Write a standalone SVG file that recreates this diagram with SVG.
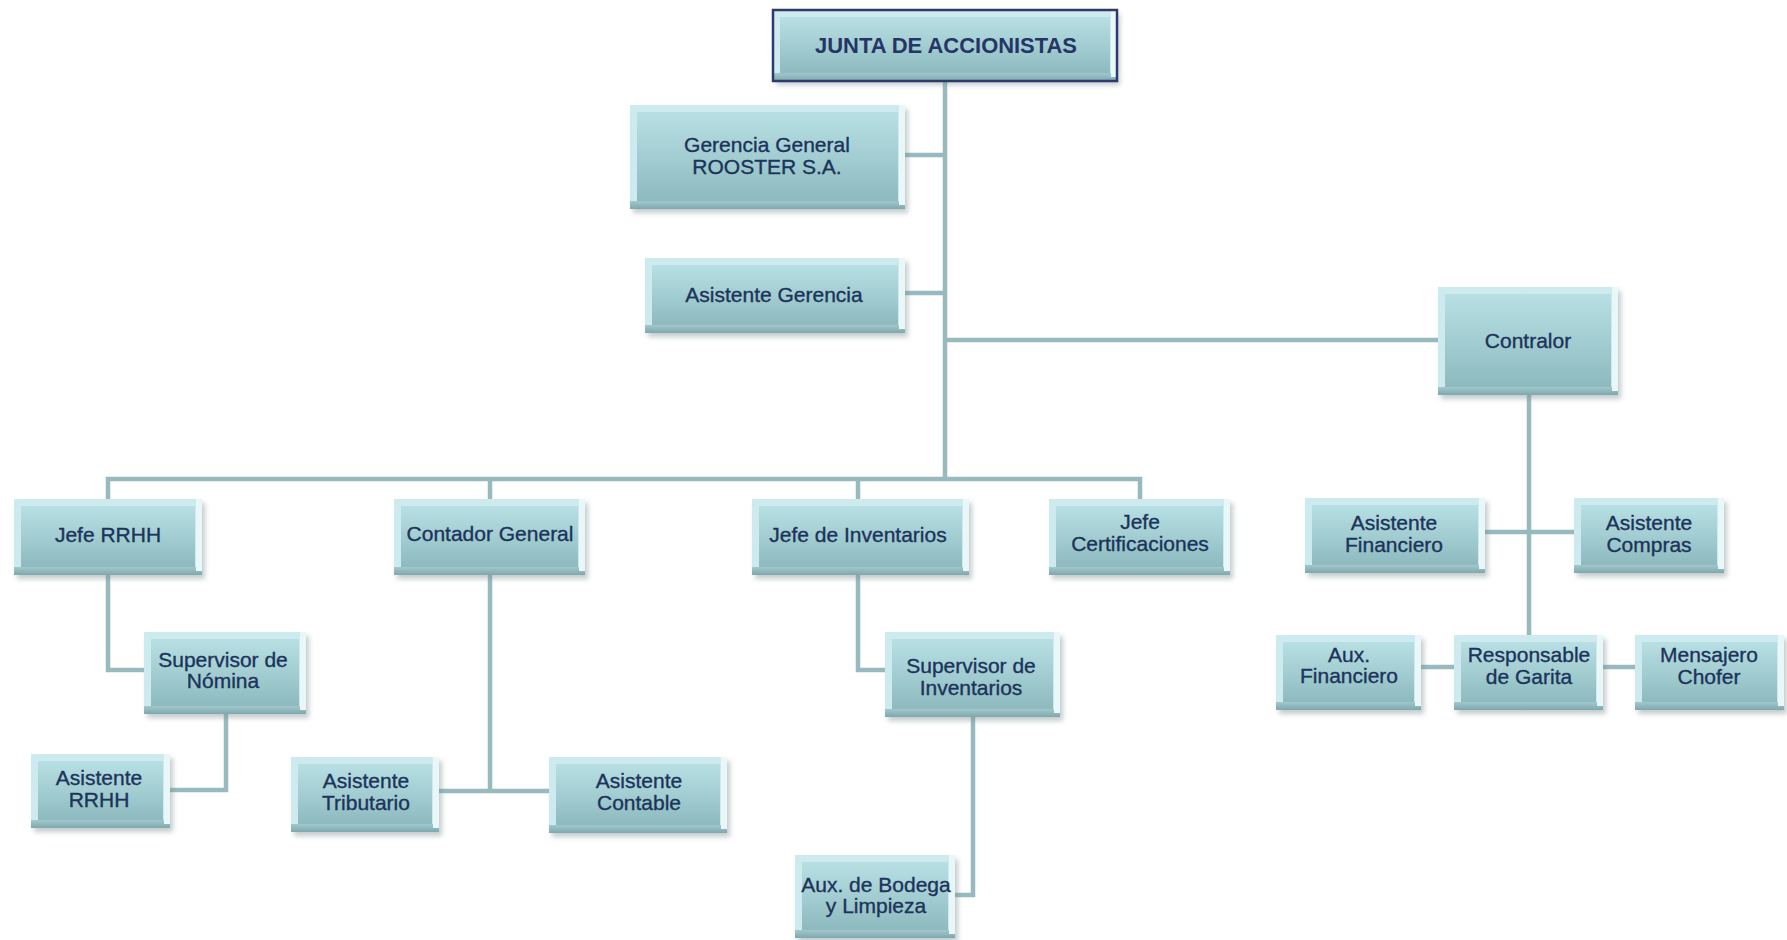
<svg xmlns="http://www.w3.org/2000/svg" width="1787" height="940" viewBox="0 0 1787 940">
<style>
.sh{fill:#7f8f92;opacity:.45;filter:url(#fSh)}
.rim{fill:#cdebee}
.face{fill:url(#gFace)}
.bot{fill:url(#gBot)}
.rt{fill:#eaf7f8}
.t{font-family:"Liberation Sans",Arial,sans-serif;font-size:21px;fill:#1b345a;stroke:#1b345a;stroke-width:.35;text-anchor:middle}
.tb{font-weight:bold;font-size:22px;fill:#243566;stroke:none}
.c{fill:none;stroke:#98babe;stroke-width:4.5}
</style>
<defs>
<linearGradient id="gFace" x1="0" y1="0" x2="0" y2="1"><stop offset="0" stop-color="#b8e0e4"/><stop offset="1" stop-color="#8dbabf"/></linearGradient>
<linearGradient id="gBot" x1="0" y1="0" x2="0" y2="1"><stop offset="0" stop-color="#a2c8cc"/><stop offset="1" stop-color="#7ea8ad"/></linearGradient>
<filter id="fSh" x="-10%" y="-10%" width="130%" height="140%"><feGaussianBlur stdDeviation="2.5"/></filter>
</defs>
<rect width="1787" height="940" fill="#ffffff"/>
<g id="connectors">
<path class="c" d="M945 81V479"/>
<path class="c" d="M905 155H945"/>
<path class="c" d="M905 293H945"/>
<path class="c" d="M945 340H1438"/>
<path class="c" d="M108 499V479H1140V499"/>
<path class="c" d="M490 479V499"/>
<path class="c" d="M858 479V499"/>
<path class="c" d="M108 575V670H144"/>
<path class="c" d="M226 714V790H170"/>
<path class="c" d="M490 575V791"/>
<path class="c" d="M439 791H549"/>
<path class="c" d="M858 575V670H885"/>
<path class="c" d="M973 717V895H955"/>
<path class="c" d="M1529 395V635"/>
<path class="c" d="M1485 532H1574"/>
<path class="c" d="M1421 667H1454"/>
<path class="c" d="M1603 667H1635"/>
</g>
<g id="n-junta" transform="translate(773,10)">
<rect class="sh" x="3" y="4" width="344" height="71"/>
<rect class="rim" width="344" height="71"/>
<rect class="bot" y="63" width="344" height="8"/>
<rect class="rt" x="338" width="6" height="67"/>
<rect class="face" x="7" y="7" width="330" height="56"/>
<rect width="344" height="71" fill="none" stroke="#2e3a6e" stroke-width="2.5"/>
<text class="t tb" x="173" y="43" textLength="262" lengthAdjust="spacingAndGlyphs">JUNTA DE ACCIONISTAS</text>
</g>
<g id="n-gerencia" transform="translate(630,105)">
<rect class="sh" x="3" y="4" width="275" height="104"/>
<rect class="rim" width="275" height="104"/>
<rect class="bot" y="96" width="275" height="8"/>
<rect class="rt" x="269" width="6" height="100"/>
<rect class="face" x="7" y="7" width="261" height="89"/>
<text class="t" x="137" y="47">Gerencia General<tspan x="137" dy="22">ROOSTER S.A.</tspan></text>
</g>
<g id="n-asist-gerencia" transform="translate(645,258)">
<rect class="sh" x="3" y="4" width="260" height="75"/>
<rect class="rim" width="260" height="75"/>
<rect class="bot" y="67" width="260" height="8"/>
<rect class="rt" x="254" width="6" height="71"/>
<rect class="face" x="7" y="7" width="246" height="60"/>
<text class="t" x="129" y="44">Asistente Gerencia</text>
</g>
<g id="n-contralor" transform="translate(1438,287)">
<rect class="sh" x="3" y="4" width="180" height="108"/>
<rect class="rim" width="180" height="108"/>
<rect class="bot" y="100" width="180" height="8"/>
<rect class="rt" x="174" width="6" height="104"/>
<rect class="face" x="7" y="7" width="166" height="93"/>
<text class="t" x="90" y="61">Contralor</text>
</g>
<g id="n-jefe-rrhh" transform="translate(14,499)">
<rect class="sh" x="3" y="4" width="188" height="76"/>
<rect class="rim" width="188" height="76"/>
<rect class="bot" y="68" width="188" height="8"/>
<rect class="rt" x="182" width="6" height="72"/>
<rect class="face" x="7" y="7" width="174" height="61"/>
<text class="t" x="94" y="43">Jefe RRHH</text>
</g>
<g id="n-contador" transform="translate(394,499)">
<rect class="sh" x="3" y="4" width="191" height="76"/>
<rect class="rim" width="191" height="76"/>
<rect class="bot" y="68" width="191" height="8"/>
<rect class="rt" x="185" width="6" height="72"/>
<rect class="face" x="7" y="7" width="177" height="61"/>
<text class="t" x="96" y="42">Contador General</text>
</g>
<g id="n-jefe-inv" transform="translate(752,499)">
<rect class="sh" x="3" y="4" width="217" height="76"/>
<rect class="rim" width="217" height="76"/>
<rect class="bot" y="68" width="217" height="8"/>
<rect class="rt" x="211" width="6" height="72"/>
<rect class="face" x="7" y="7" width="203" height="61"/>
<text class="t" x="106" y="43">Jefe de Inventarios</text>
</g>
<g id="n-jefe-cert" transform="translate(1049,499)">
<rect class="sh" x="3" y="4" width="181" height="76"/>
<rect class="rim" width="181" height="76"/>
<rect class="bot" y="68" width="181" height="8"/>
<rect class="rt" x="175" width="6" height="72"/>
<rect class="face" x="7" y="7" width="167" height="61"/>
<text class="t" x="91" y="30">Jefe<tspan x="91" dy="22">Certificaciones</tspan></text>
</g>
<g id="n-sup-nomina" transform="translate(144,632)">
<rect class="sh" x="3" y="4" width="162" height="82"/>
<rect class="rim" width="162" height="82"/>
<rect class="bot" y="74" width="162" height="8"/>
<rect class="rt" x="156" width="6" height="78"/>
<rect class="face" x="7" y="7" width="148" height="67"/>
<text class="t" x="79" y="35">Supervisor de<tspan x="79" dy="21">Nómina</tspan></text>
</g>
<g id="n-asist-rrhh" transform="translate(31,754)">
<rect class="sh" x="3" y="4" width="139" height="74"/>
<rect class="rim" width="139" height="74"/>
<rect class="bot" y="66" width="139" height="8"/>
<rect class="rt" x="133" width="6" height="70"/>
<rect class="face" x="7" y="7" width="125" height="59"/>
<text class="t" x="68" y="31">Asistente<tspan x="68" dy="22">RRHH</tspan></text>
</g>
<g id="n-asist-trib" transform="translate(291,757)">
<rect class="sh" x="3" y="4" width="148" height="75"/>
<rect class="rim" width="148" height="75"/>
<rect class="bot" y="67" width="148" height="8"/>
<rect class="rt" x="142" width="6" height="71"/>
<rect class="face" x="7" y="7" width="134" height="60"/>
<text class="t" x="75" y="31">Asistente<tspan x="75" dy="22">Tributario</tspan></text>
</g>
<g id="n-asist-cont" transform="translate(549,757)">
<rect class="sh" x="3" y="4" width="178" height="76"/>
<rect class="rim" width="178" height="76"/>
<rect class="bot" y="68" width="178" height="8"/>
<rect class="rt" x="172" width="6" height="72"/>
<rect class="face" x="7" y="7" width="164" height="61"/>
<text class="t" x="90" y="31">Asistente<tspan x="90" dy="22">Contable</tspan></text>
</g>
<g id="n-sup-inv" transform="translate(885,632)">
<rect class="sh" x="3" y="4" width="175" height="85"/>
<rect class="rim" width="175" height="85"/>
<rect class="bot" y="77" width="175" height="8"/>
<rect class="rt" x="169" width="6" height="81"/>
<rect class="face" x="7" y="7" width="161" height="70"/>
<text class="t" x="86" y="41">Supervisor de<tspan x="86" dy="22">Inventarios</tspan></text>
</g>
<g id="n-aux-bodega" transform="translate(795,855)">
<rect class="sh" x="3" y="4" width="160" height="83"/>
<rect class="rim" width="160" height="83"/>
<rect class="bot" y="75" width="160" height="8"/>
<rect class="rt" x="154" width="6" height="79"/>
<rect class="face" x="7" y="7" width="146" height="68"/>
<text class="t" x="81" y="37">Aux. de Bodega<tspan x="81" dy="21">y Limpieza</tspan></text>
</g>
<g id="n-asist-fin" transform="translate(1305,498)">
<rect class="sh" x="3" y="4" width="180" height="75"/>
<rect class="rim" width="180" height="75"/>
<rect class="bot" y="67" width="180" height="8"/>
<rect class="rt" x="174" width="6" height="71"/>
<rect class="face" x="7" y="7" width="166" height="60"/>
<text class="t" x="89" y="32">Asistente<tspan x="89" dy="22">Financiero</tspan></text>
</g>
<g id="n-asist-comp" transform="translate(1574,498)">
<rect class="sh" x="3" y="4" width="150" height="75"/>
<rect class="rim" width="150" height="75"/>
<rect class="bot" y="67" width="150" height="8"/>
<rect class="rt" x="144" width="6" height="71"/>
<rect class="face" x="7" y="7" width="136" height="60"/>
<text class="t" x="75" y="32">Asistente<tspan x="75" dy="22">Compras</tspan></text>
</g>
<g id="n-aux-fin" transform="translate(1276,635)">
<rect class="sh" x="3" y="4" width="145" height="75"/>
<rect class="rim" width="145" height="75"/>
<rect class="bot" y="67" width="145" height="8"/>
<rect class="rt" x="139" width="6" height="71"/>
<rect class="face" x="7" y="7" width="131" height="60"/>
<text class="t" x="73" y="27">Aux.<tspan x="73" dy="21">Financiero</tspan></text>
</g>
<g id="n-resp-garita" transform="translate(1454,635)">
<rect class="sh" x="3" y="4" width="149" height="75"/>
<rect class="rim" width="149" height="75"/>
<rect class="bot" y="67" width="149" height="8"/>
<rect class="rt" x="143" width="6" height="71"/>
<rect class="face" x="7" y="7" width="135" height="60"/>
<text class="t" x="75" y="27">Responsable<tspan x="75" dy="22">de Garita</tspan></text>
</g>
<g id="n-mensajero" transform="translate(1635,635)">
<rect class="sh" x="3" y="4" width="149" height="75"/>
<rect class="rim" width="149" height="75"/>
<rect class="bot" y="67" width="149" height="8"/>
<rect class="rt" x="143" width="6" height="71"/>
<rect class="face" x="7" y="7" width="135" height="60"/>
<text class="t" x="74" y="27">Mensajero<tspan x="74" dy="22">Chofer</tspan></text>
</g>
</svg>
